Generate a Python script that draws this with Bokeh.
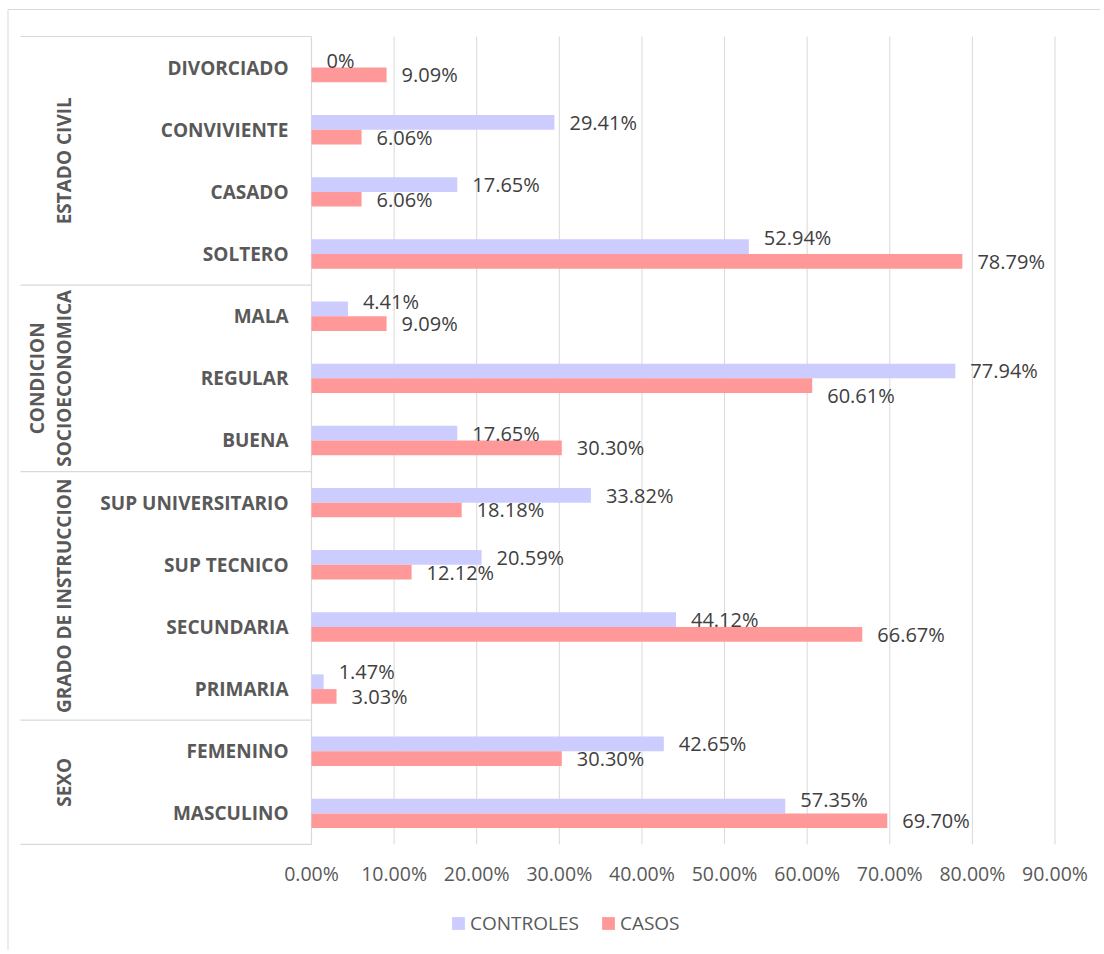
import math
from bokeh.plotting import figure
from bokeh.models import Range1d, Legend, LegendItem, ColumnDataSource
from bokeh.core.properties import value
from bokeh.embed import file_html
from bokeh.resources import INLINE

# ---- data ----
groups = ["ESTADO CIVIL", "CONDICION\nSOCIOECONOMICA", "GRADO DE INSTRUCCION", "SEXO"]
group_sizes = [4, 3, 4, 2]
categories = ["DIVORCIADO", "CONVIVIENTE", "CASADO", "SOLTERO",
              "MALA", "REGULAR", "BUENA",
              "SUP UNIVERSITARIO", "SUP TECNICO", "SECUNDARIA", "PRIMARIA",
              "FEMENINO", "MASCULINO"]
controles = [0.0, 29.41, 17.65, 52.94,
             4.41, 77.94, 17.65,
             33.82, 20.59, 44.12, 1.47,
             42.65, 57.35]
casos = [9.09, 6.06, 6.06, 78.79,
         9.09, 60.61, 30.30,
         18.18, 12.12, 66.67, 3.03,
         30.30, 69.70]
x_ticks = [0, 10, 20, 30, 40, 50, 60, 70, 80, 90]
x_tick_labels = ["0.00%", "10.00%", "20.00%", "30.00%", "40.00%",
                 "50.00%", "60.00%", "70.00%", "80.00%", "90.00%"]
series_names = ["CONTROLES", "CASOS"]

# ---- style: vertical nudges of data labels (pixels, positive = down) ----
nudge_ctrl = [0, 0, 0, -9, -7, 0, 0, 0, 0, 0, -10, 0, -7]
nudge_caso = [0, 0, 0, 0, 0, 10, 0, 0, 0, 0, 0, 0, 0]

# ---- layout constants (pixels) ----
W, H = 1100, 950
ZERO_PX = 311.0        # canvas x of 0%
PX_PER_PCT = 8.261     # pixels per percentage point
TOP_PX = 36.0          # canvas y of top of category axis
CAT_PX = 62.15         # pixels per category slot

def xdata(px):
    return (px - ZERO_PX) / PX_PER_PCT

def ydata(py):
    return (py - TOP_PX) / CAT_PX

x0 = xdata(0)
x1 = xdata(W)
y_top = ydata(0)
y_bot = ydata(H)

C_CTRL = "#CCCCFF"
C_CASO = "#FF9999"
GRID = "#D9D9D9"
TXT = "#595959"
LBL = "#404040"
FONT = "Open Sans"

p = figure(width=W, height=H, output_backend="svg", toolbar_location=None,
           x_range=Range1d(x0, x1), y_range=Range1d(y_bot, y_top),
           x_axis_location=None, y_axis_location=None, min_border=0,
           background_fill_color="white", border_fill_color="white")
p.outline_line_color = None
p.grid.visible = False

n = len(categories)
bar_h = 14.7 / CAT_PX
centers = [i + 0.5 for i in range(n)]

# gridlines
p.segment(x0=x_ticks[1:], x1=x_ticks[1:], y0=[0] * (len(x_ticks) - 1),
          y1=[n] * (len(x_ticks) - 1), line_color=GRID, line_width=1)

# outer border (left & top)
p.segment(x0=[xdata(7.5), xdata(7.5)], x1=[xdata(7.5), x1],
          y0=[ydata(9), ydata(9)], y1=[y_bot, ydata(9)],
          line_color=GRID, line_width=1)

# category axis line and group separators
bounds = [0]
for s in group_sizes:
    bounds.append(bounds[-1] + s)
p.segment(x0=[xdata(20)] * len(bounds), x1=[0] * len(bounds),
          y0=bounds, y1=bounds, line_color=GRID, line_width=1.2)
p.segment(x0=[0], x1=[0], y0=[0], y1=[n], line_color=GRID, line_width=1.2)

# bars
yc = [c - bar_h / 2 for c in centers]
yk = [c + bar_h / 2 for c in centers]
src_c = ColumnDataSource(dict(y=yc, v=controles))
src_k = ColumnDataSource(dict(y=yk, v=casos))
r_c = p.hbar(y="y", left=0, right="v", height=bar_h, source=src_c,
             fill_color=C_CTRL, line_color=None)
r_k = p.hbar(y="y", left=0, right="v", height=bar_h, source=src_k,
             fill_color=C_CASO, line_color=None)

def fmt(v):
    return "0%" if v == 0 else f"{v:.2f}%"

p.text(x=controles, y=[y + d / CAT_PX for y, d in zip(yc, nudge_ctrl)],
       text=[fmt(v) for v in controles], x_offset=15,
       text_align="left", text_baseline="middle", text_font=value(FONT),
       text_font_size="20px", text_color=LBL)
p.text(x=casos, y=[y + d / CAT_PX for y, d in zip(yk, nudge_caso)],
       text=[fmt(v) for v in casos], x_offset=15,
       text_align="left", text_baseline="middle", text_font=value(FONT),
       text_font_size="20px", text_color=LBL)

# category labels
p.text(x=[0] * n, y=centers, text=categories, x_offset=-23,
       text_align="right", text_baseline="middle", text_font=value(FONT),
       text_font_size="19px", text_font_style="bold", text_color=TXT)

# group labels (rotated)
gx, gy, gt = [], [], []
for gi, g in enumerate(groups):
    mid = (bounds[gi] + bounds[gi + 1]) / 2
    lines = g.split("\n")
    for li, line in enumerate(lines):
        gx.append(xdata(63 - 27 * (len(lines) - 1 - li)))
        gy.append(mid)
        gt.append(line)
p.text(x=gx, y=gy, text=gt, angle=math.pi / 2,
       text_align="center", text_baseline="middle", text_font=value(FONT),
       text_font_size="19px", text_font_style="bold", text_color=TXT)

# x tick labels
p.text(x=x_ticks, y=[n] * len(x_ticks), text=x_tick_labels, y_offset=29,
       text_align="center", text_baseline="middle", text_font=value(FONT),
       text_font_size="19.5px", text_color=TXT)

legend = Legend(items=[LegendItem(label=series_names[0], renderers=[r_c]),
                       LegendItem(label=series_names[1], renderers=[r_k])],
                orientation="horizontal", location=(450, 14),
                border_line_color=None, background_fill_alpha=0,
                label_text_font=FONT, label_text_font_size="19px",
                label_text_color=TXT, glyph_width=16, glyph_height=16,
                label_standoff=4, spacing=21, padding=0, margin=0,
                label_height=26)
p.add_layout(legend)

open("out.html", "w").write(file_html(p, INLINE))
